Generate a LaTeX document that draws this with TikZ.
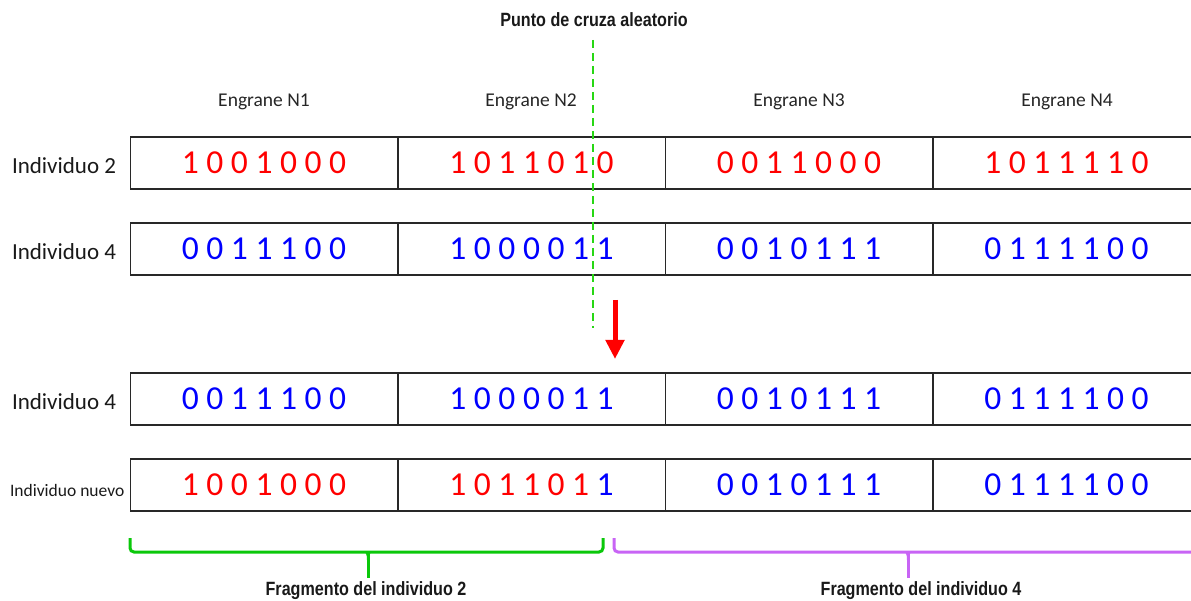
\documentclass[tikz,border=0pt]{standalone}
\usepackage{fontspec}
\setmainfont{Carlito}
\newfontfamily\condfont[FakeStretch=0.84]{Liberation Sans}
\usetikzlibrary{arrows.meta}
\definecolor{bitred}{RGB}{255,0,0}
\definecolor{bitblue}{RGB}{0,0,255}
\definecolor{cutgreen}{RGB}{40,215,20}
\definecolor{bracegreen}{RGB}{10,200,10}
\definecolor{bracepurple}{RGB}{200,100,245}
\definecolor{gridline}{RGB}{40,40,40}
\tikzset{
  cell/.style={draw=gridline, line width=1.5pt, minimum width=267.5pt, minimum height=52pt,
    inner sep=0pt, font=\fontsize{33.5}{34}\selectfont},
  header/.style={font=\fontsize{19.5}{20}\selectfont, text=black!85},
  rowlabel/.style={font=\fontsize{23}{24}\selectfont, text=black!90, anchor=west},
  small label/.style={font=\fontsize{17.5}{18}\selectfont, text=black!90, anchor=west},
  caption/.style={font=\condfont\bfseries\fontsize{19.2}{20}\selectfont, text=black!90},
  cutline/.style={draw=cutgreen, line width=2.8pt, dash pattern=on 8pt off 5pt},
  bracket/.style={line width=3pt, rounded corners=4pt},
}
\begin{document}
\begin{tikzpicture}[x=1pt,y=-1pt]
\useasboundingbox (0,0) rectangle (1191,601);

% column headers
\node[header] (h1) at (264,102) {Engrane N1};
\node[header] (h2) at (531,102) {Engrane N2};
\node[header] (h3) at (799,102) {Engrane N3};
\node[header] (h4) at (1067,102) {Engrane N4};

% row 1: Individuo 2
\node[rowlabel] (l1) at (8.5,166) {Individuo 2};
\node[cell, text=bitred] (a1) at (264,163) {1 0 0 1 0 0 0};
\node[cell, text=bitred] (a2) at (531.5,163) {1 0 1 1 0 1 0};
\node[cell, text=bitred] (a3) at (799,163) {0 0 1 1 0 0 0};
\node[cell, text=bitred] (a4) at (1066.5,163) {1 0 1 1 1 1 0};

% row 2: Individuo 4
\node[rowlabel] (l2) at (8.5,252) {Individuo 4};
\node[cell, text=bitblue] (b1) at (264,249) {0 0 1 1 1 0 0};
\node[cell, text=bitblue] (b2) at (531.5,249) {1 0 0 0 0 1 1};
\node[cell, text=bitblue] (b3) at (799,249) {0 0 1 0 1 1 1};
\node[cell, text=bitblue] (b4) at (1066.5,249) {0 1 1 1 1 0 0};

% row 3: Individuo 4
\node[rowlabel] (l3) at (8.5,402) {Individuo 4};
\node[cell, text=bitblue] (c1) at (264,399) {0 0 1 1 1 0 0};
\node[cell, text=bitblue] (c2) at (531.5,399) {1 0 0 0 0 1 1};
\node[cell, text=bitblue] (c3) at (799,399) {0 0 1 0 1 1 1};
\node[cell, text=bitblue] (c4) at (1066.5,399) {0 1 1 1 1 0 0};

% row 4: Individuo nuevo
\node[small label] (l4) at (6.5,490) {Individuo nuevo};
\node[cell, text=bitred] (d1) at (264,485) {1 0 0 1 0 0 0};
\node[cell] (d2) at (531.5,485) {\textcolor{bitred}{1 0 1 1 0 1} \textcolor{bitblue}{1}};
\node[cell, text=bitblue] (d3) at (799,485) {0 0 1 0 1 1 1};
\node[cell, text=bitblue] (d4) at (1066.5,485) {0 1 1 1 1 0 0};

% crossover point
\node[caption] (title) at (594,20) {Punto de cruza aleatorio};
\coordinate (cuttop) at (593,40);
\coordinate (cutbot) at (593,328);
\draw[cutline] (cuttop) -- (cutbot);

% red arrow
\coordinate (arrtop) at (615,300);
\coordinate (arrbot) at (615,359);
\draw[draw=bitred, line width=5pt, -{Triangle[length=19pt,width=18pt]}] (arrtop) -- (arrbot);

% bracket for fragment of individuo 2
\coordinate (g1) at (130,538);
\coordinate (g2) at (603,538);
\coordinate (gtip) at (368,578);
\draw[bracket, draw=bracegreen] (g1) -- (130,552) -- (603,552) -- (g2);
\draw[draw=bracegreen, line width=3pt] (368,552) -- (gtip);
\fill[bracegreen] (362,551) .. controls (366,552) and (367,554) .. (367,560) -- (369,560) .. controls (369,554) and (370,552) .. (374,551) -- cycle;
\node[caption] (f2) at (366,591) {Fragmento del individuo 2};

% bracket for fragment of individuo 4
\coordinate (p1) at (614,538);
\coordinate (p2) at (1200,538);
\coordinate (ptip) at (908,578);
\draw[bracket, draw=bracepurple] (p1) -- (614,552) -- (1200,552) -- (p2);
\draw[draw=bracepurple, line width=3pt] (908,552) -- (ptip);
\fill[bracepurple] (902,551) .. controls (906,552) and (907,554) .. (907,560) -- (909,560) .. controls (909,554) and (910,552) .. (914,551) -- cycle;
\node[caption] (f4) at (921,591) {Fragmento del individuo 4};
\end{tikzpicture}
\end{document}
